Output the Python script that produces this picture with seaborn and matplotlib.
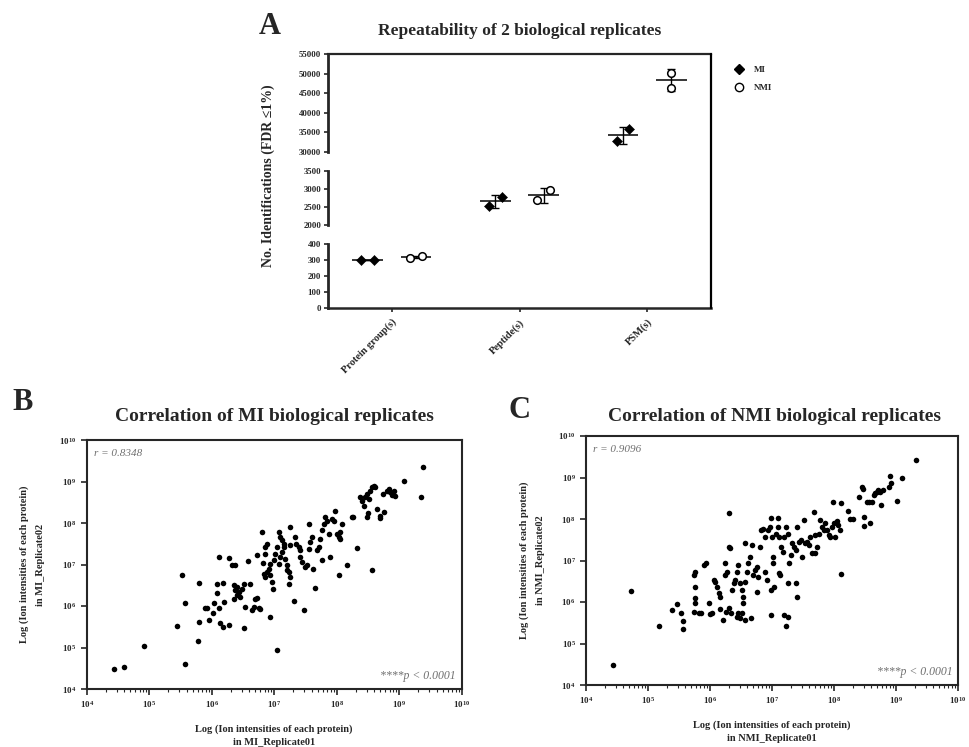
import numpy as np
import pandas as pd
import matplotlib
matplotlib.use("Agg")
import matplotlib.pyplot as plt
import seaborn as sns
from matplotlib.lines import Line2D
from matplotlib.ticker import LogLocator, NullLocator, NullFormatter

sns.set_style("ticks")
plt.rcParams['font.family'] = ['Liberation Serif', 'DejaVu Serif']
plt.rcParams['mathtext.fontset'] = 'stix'
plt.rcParams['font.weight'] = 'bold'

# === Panel A data: identifications per replicate ===
categories = ["Protein group(s)", "Peptide(s)", "PSM(s)"]
mi_values = [[302, 303], [2537, 2775], [32700, 35850]]
nmi_values = [[313, 325], [2683, 2958], [50250, 46300]]

# broken y axis segments (top to bottom)
seg_ranges = [(30000, 55000), (2000, 3500), (0, 400)]
seg_ticks = [[30000, 35000, 40000, 45000, 50000, 55000],
             [2000, 2500, 3000, 3500],
             [0, 100, 200, 300, 400]]

# === Panel B / C data: log10 ion intensities (replicate01, replicate02) ===
mi_rep01 = [4.44, 4.59, 4.92, 5.44, 5.53, 5.58, 5.57, 5.78, 5.79, 5.80,
            5.89, 5.93, 5.96, 6.02, 6.03, 6.09, 6.09, 6.11, 6.11, 6.13,
            6.18, 6.18, 6.20, 6.28, 6.27, 6.33, 6.37, 6.35, 6.37, 6.40,
            6.43, 6.45, 6.48, 6.51, 6.40, 6.35, 6.51, 6.58, 6.53, 6.62,
            6.64, 6.67, 6.69, 6.72, 6.75, 6.78, 6.80, 6.82, 6.72, 6.85,
            6.85, 6.88, 6.83, 6.85, 6.88, 6.91, 6.93, 6.93, 6.96, 6.98,
            6.99, 7.01, 7.04, 6.94, 7.05, 7.07, 7.09, 7.12, 7.15, 7.07,
            7.09, 7.12, 7.15, 7.17, 7.20, 7.21, 7.24, 7.26, 7.25, 7.31,
            7.33, 7.35, 7.39, 7.41, 7.23, 7.25, 7.41, 7.44, 7.49, 7.52,
            7.55, 7.57, 7.60, 7.55, 7.47, 7.62, 7.65, 7.68, 7.71, 7.73,
            7.76, 7.76, 7.79, 7.81, 7.84, 7.87, 7.89, 7.92, 7.95, 7.97,
            8.00, 8.03, 8.05, 8.06, 8.04, 8.08, 8.16, 8.24, 8.26, 8.33,
            8.37, 8.40, 8.43, 8.45, 8.48, 8.51, 8.53, 8.56, 8.59, 8.61,
            8.48, 8.50, 8.56, 8.64, 8.69, 8.70, 8.74, 8.75, 8.80, 8.83,
            8.85, 8.88, 8.91, 8.93, 9.08, 9.35, 9.38]
mi_rep02 = [4.47, 4.54, 5.03, 5.52, 6.75, 6.07, 4.60, 5.15, 6.55, 5.62,
            5.94, 5.94, 5.66, 5.82, 6.07, 6.31, 6.52, 7.18, 5.96, 5.58,
            5.50, 6.55, 6.10, 7.16, 5.55, 6.98, 6.99, 6.50, 6.38, 6.46,
            6.34, 6.22, 6.42, 6.54, 6.26, 6.18, 5.48, 7.08, 5.98, 6.54,
            5.90, 5.98, 6.18, 6.20, 5.94, 5.92, 7.78, 7.03, 7.22, 7.26,
            7.42, 7.50, 6.78, 6.70, 6.82, 6.90, 7.02, 6.74, 6.58, 6.42,
            7.10, 7.26, 7.42, 5.74, 4.95, 7.78, 7.66, 7.58, 7.50, 7.02,
            7.18, 7.30, 7.42, 7.14, 6.98, 6.86, 6.54, 7.90, 7.46, 6.12,
            7.66, 7.50, 7.42, 7.34, 6.82, 6.70, 7.18, 7.06, 6.94, 6.98,
            7.38, 7.54, 7.66, 7.98, 5.91, 6.90, 6.44, 7.34, 7.42, 7.62,
            7.10, 7.82, 7.98, 8.14, 8.06, 7.74, 7.19, 8.10, 8.06, 8.30,
            7.74, 7.66, 7.62, 7.78, 6.74, 7.98, 7.00, 8.14, 8.15, 7.39,
            8.63, 8.54, 8.42, 8.62, 8.70, 8.58, 8.78, 8.86, 8.90, 8.87,
            8.14, 8.23, 6.86, 8.34, 8.18, 8.12, 8.71, 8.26, 8.78, 8.82,
            8.74, 8.68, 8.78, 8.66, 9.02, 8.62, 9.34]

nmi_rep01 = [4.44, 4.73, 5.18, 5.38, 5.46, 5.53, 5.56, 5.56, 5.74, 5.75,
             5.75, 5.76, 5.74, 5.75, 5.91, 5.94, 5.82, 5.86, 5.98, 6.00,
             6.03, 6.06, 6.08, 6.11, 6.14, 6.16, 6.16, 6.21, 6.24, 6.24,
             6.27, 6.30, 6.30, 6.32, 6.25, 6.31, 6.34, 6.35, 6.38, 6.40,
             6.43, 6.45, 6.48, 6.51, 6.43, 6.45, 6.48, 6.51, 6.53, 6.56,
             6.56, 6.53, 6.57, 6.59, 6.61, 6.64, 6.66, 6.67, 6.69, 6.72,
             6.75, 6.75, 6.77, 6.80, 6.83, 6.85, 6.88, 6.89, 6.92, 6.93,
             6.96, 6.98, 6.98, 6.99, 7.00, 7.01, 7.02, 7.04, 7.07, 7.09,
             7.09, 7.12, 7.12, 7.13, 7.15, 7.17, 7.20, 7.23, 7.25, 7.26,
             7.20, 7.25, 7.22, 7.28, 7.31, 7.33, 7.36, 7.38, 7.38, 7.40,
             7.41, 7.44, 7.46, 7.49, 7.52, 7.54, 7.57, 7.60, 7.62, 7.65,
             7.67, 7.69, 7.70, 7.73, 7.76, 7.78, 7.81, 7.84, 7.86, 7.89,
             7.92, 7.94, 7.97, 8.00, 7.99, 8.02, 8.05, 8.07, 8.10, 8.11,
             8.11, 8.23, 8.26, 8.31, 8.41, 8.45, 8.47, 8.48, 8.48, 8.53,
             8.57, 8.58, 8.61, 8.64, 8.66, 8.69, 8.71, 8.74, 8.76, 8.79,
             8.89, 8.90, 8.92, 9.01, 9.10, 9.32]
nmi_rep02 = [4.47, 6.27, 5.43, 5.81, 5.94, 5.74, 5.54, 5.34, 5.77, 5.97,
             6.09, 6.35, 6.65, 6.73, 6.89, 6.93, 5.73, 5.73, 5.97, 5.71,
             5.74, 6.53, 6.49, 6.37, 6.21, 6.13, 5.82, 5.57, 6.93, 6.65,
             6.73, 7.33, 8.15, 7.29, 5.77, 5.85, 5.74, 6.29, 6.45, 6.53,
             5.65, 5.73, 5.61, 5.73, 6.73, 6.89, 6.45, 6.29, 6.13, 6.49,
             7.41, 5.97, 5.57, 6.73, 6.93, 7.09, 5.62, 7.37, 6.65, 6.77,
             6.85, 6.25, 6.61, 7.33, 7.73, 7.77, 7.57, 6.73, 6.53, 7.73,
             7.81, 6.29, 5.69, 8.02, 7.57, 7.09, 6.93, 6.37, 7.65, 8.02,
             7.81, 7.57, 6.69, 6.65, 7.33, 7.21, 7.57, 7.81, 7.65, 6.45,
             5.69, 5.65, 5.42, 6.93, 7.13, 7.41, 7.33, 7.25, 6.45, 6.13,
             7.81, 7.45, 7.49, 7.09, 7.98, 7.41, 7.45, 7.37, 7.57, 7.17,
             8.18, 7.61, 7.17, 7.33, 7.65, 7.98, 7.81, 7.73, 7.90, 7.73,
             7.61, 7.57, 7.81, 7.90, 8.42, 7.57, 7.94, 7.86, 7.73, 8.39,
             6.67, 8.19, 7.99, 7.99, 8.54, 8.78, 8.72, 8.05, 7.83, 8.42,
             8.42, 7.91, 8.42, 8.58, 8.62, 8.66, 8.70, 8.66, 8.34, 8.70,
             8.78, 9.04, 8.86, 8.43, 8.98, 9.42]

r_text = {"MI": "r = 0.8348", "NMI": "r = 0.9096"}
p_text = "****p < 0.0001"

# === figure layout (pixel boxes -> figure fractions) ===
W, H = 969, 747
fig = plt.figure(figsize=(W / 100, H / 100), dpi=100)


def box(l, t, r, b):
    return [l / W, 1 - b / H, (r - l) / W, (b - t) / H]


# --- Panel A: broken-axis dot plot ---
seg_boxes = [(328, 54, 711, 152), (328, 170.7, 711, 225.3), (328, 244, 711, 308.3)]
group_shift = {"MI": -0.19, "NMI": 0.19}
rep_spread = {"MI": [0.05, 0.05, 0.05], "NMI": [0.05, 0.05, 0.0]}

rows = []
for grp, vals in [("MI", mi_values), ("NMI", nmi_values)]:
    for i, pair in enumerate(vals):
        for k, v in enumerate(pair):
            sign = -1 if k == 0 else 1
            rows.append({"group": grp, "cat": i, "value": v,
                         "pos": i + group_shift[grp] + sign * rep_spread[grp][i]})
df_a = pd.DataFrame(rows)
summary = df_a.groupby(["group", "cat"])["value"].agg(["mean", "std"]).reset_index()

seg_axes = []
for j, (b, rng, ticks) in enumerate(zip(seg_boxes, seg_ranges, seg_ticks)):
    ax = fig.add_axes(box(*b))
    seg_axes.append(ax)
    sns.scatterplot(data=df_a[df_a.group == "MI"], x="pos", y="value", marker="D",
                    color="black", s=26, edgecolor="black", ax=ax, zorder=3)
    sns.scatterplot(data=df_a[df_a.group == "NMI"], x="pos", y="value", marker="o",
                    facecolor="white", edgecolor="black", linewidth=1.1, s=30, ax=ax, zorder=3)
    for _, row in summary.iterrows():
        xc = row["cat"] + group_shift[row["group"]]
        ax.hlines(row["mean"], xc - 0.12, xc + 0.12, color="black", lw=1.1, zorder=2)
        ax.errorbar(xc, row["mean"], yerr=row["std"], fmt="none", ecolor="black",
                    elinewidth=1.0, capsize=3, capthick=1.0, zorder=2)
    ax.set_xlim(-0.5, 2.5)
    ax.set_ylim(*rng)
    ax.set_yticks(ticks)
    ax.set_yticklabels([str(t) for t in ticks], fontsize=6.3, fontweight="bold")
    ax.set_xlabel("")
    ax.set_ylabel("")
    ax.spines["right"].set_visible(False)
    ax.spines["left"].set_linewidth(2)
    ax.tick_params(axis="y", length=3, width=1.2, pad=2)
    if j != 0:
        ax.spines["top"].set_visible(False)
    else:
        ax.spines["top"].set_linewidth(1.6)
    if j != len(seg_boxes) - 1:
        ax.spines["bottom"].set_visible(False)
        ax.set_xticks([])
    else:
        ax.spines["bottom"].set_linewidth(1.8)
        ax.set_xticks(range(len(categories)))
        ax.set_xticklabels(categories, rotation=45, ha="right", rotation_mode="anchor",
                           fontsize=7.5, fontweight="bold")
        ax.tick_params(axis="x", length=3, width=1.2)
    if ax.get_legend():
        ax.get_legend().remove()

fig.add_artist(Line2D([711 / W, 711 / W], [1 - 54 / H, 1 - 308.3 / H],
                      transform=fig.transFigure, color="black", lw=1.6))

fig.text(520 / W, 1 - 31 / H, "Repeatability of 2 biological replicates",
         ha="center", va="center", fontsize=12.5, fontweight="bold")
fig.text(270 / W, 1 - 27 / H, "A", ha="center", va="center", fontsize=22, fontweight="bold")
fig.text(268 / W, 1 - 176 / H, "No. Identifications (FDR ≤1%)", rotation=90,
         ha="center", va="center", fontsize=10, fontweight="bold")

handles = [Line2D([], [], marker="D", ls="", color="black", markersize=5),
           Line2D([], [], marker="o", ls="", markerfacecolor="white",
                  markeredgecolor="black", markersize=6)]
fig.legend(handles, ["MI", "NMI"], loc="upper left", bbox_to_anchor=(722 / W, 1 - 58 / H),
           frameon=False, fontsize=6.5, handletextpad=0.6, labelspacing=1.0)

# --- Panels B and C: log-log correlation scatter ---
panels = [
    ("MI", mi_rep01, mi_rep02, (86.7, 440, 461.7, 689), "B", (23, 402), 274),
    ("NMI", nmi_rep01, nmi_rep02, (586, 436, 958, 685), "C", (520, 410), 774),
]
for name, rep1, rep2, b, letter, lpos, tx in panels:
    ax = fig.add_axes(box(*b))
    df = pd.DataFrame({"rep01": 10 ** np.array(rep1), "rep02": 10 ** np.array(rep2)})
    sns.scatterplot(data=df, x="rep01", y="rep02", color="black", s=16,
                    edgecolor="black", linewidth=0, ax=ax)
    ax.set_xscale("log")
    ax.set_yscale("log")
    ax.set_xlim(1e4, 1e10)
    ax.set_ylim(1e4, 1e10)
    ax.xaxis.set_major_locator(LogLocator(base=10, numticks=10))
    ax.yaxis.set_major_locator(LogLocator(base=10, numticks=10))
    ax.xaxis.set_minor_locator(LogLocator(base=10, subs=np.arange(2, 10), numticks=20))
    ax.xaxis.set_minor_formatter(NullFormatter())
    ax.yaxis.set_minor_locator(NullLocator())
    for s in ax.spines.values():
        s.set_linewidth(1.5)
    ax.tick_params(axis="both", which="major", length=4, width=1.2, labelsize=6.5)
    ax.tick_params(axis="x", which="minor", length=2, width=0.8)
    for lab in ax.get_xticklabels() + ax.get_yticklabels():
        lab.set_fontweight("bold")
    ax.set_xlabel(f"Log (Ion intensities of each protein)\nin {name}_Replicate01",
                  fontsize=7.5, fontweight="bold", labelpad=10, linespacing=1.6)
    ax.set_ylabel(f"Log (Ion intensities of each protein)\nin {name}_Replicate02",
                  fontsize=7.5, fontweight="bold", labelpad=10, linespacing=2.0)
    ax.text(0.02, 0.965, r_text[name], transform=ax.transAxes, ha="left", va="top",
            fontsize=8, style="italic", fontweight="normal", color="#707070")
    ax.text(0.985, 0.03, p_text, transform=ax.transAxes, ha="right", va="bottom",
            fontsize=8.5, style="italic", fontweight="normal", color="#707070")
    fig.text(tx / W, 1 - 416 / H, f"Correlation of {name} biological replicates",
             ha="center", va="center", fontsize=14, fontweight="bold")
    fig.text(lpos[0] / W, 1 - lpos[1] / H, letter, ha="center", va="center",
             fontsize=22, fontweight="bold")

fig.savefig("out.png", dpi=100)
